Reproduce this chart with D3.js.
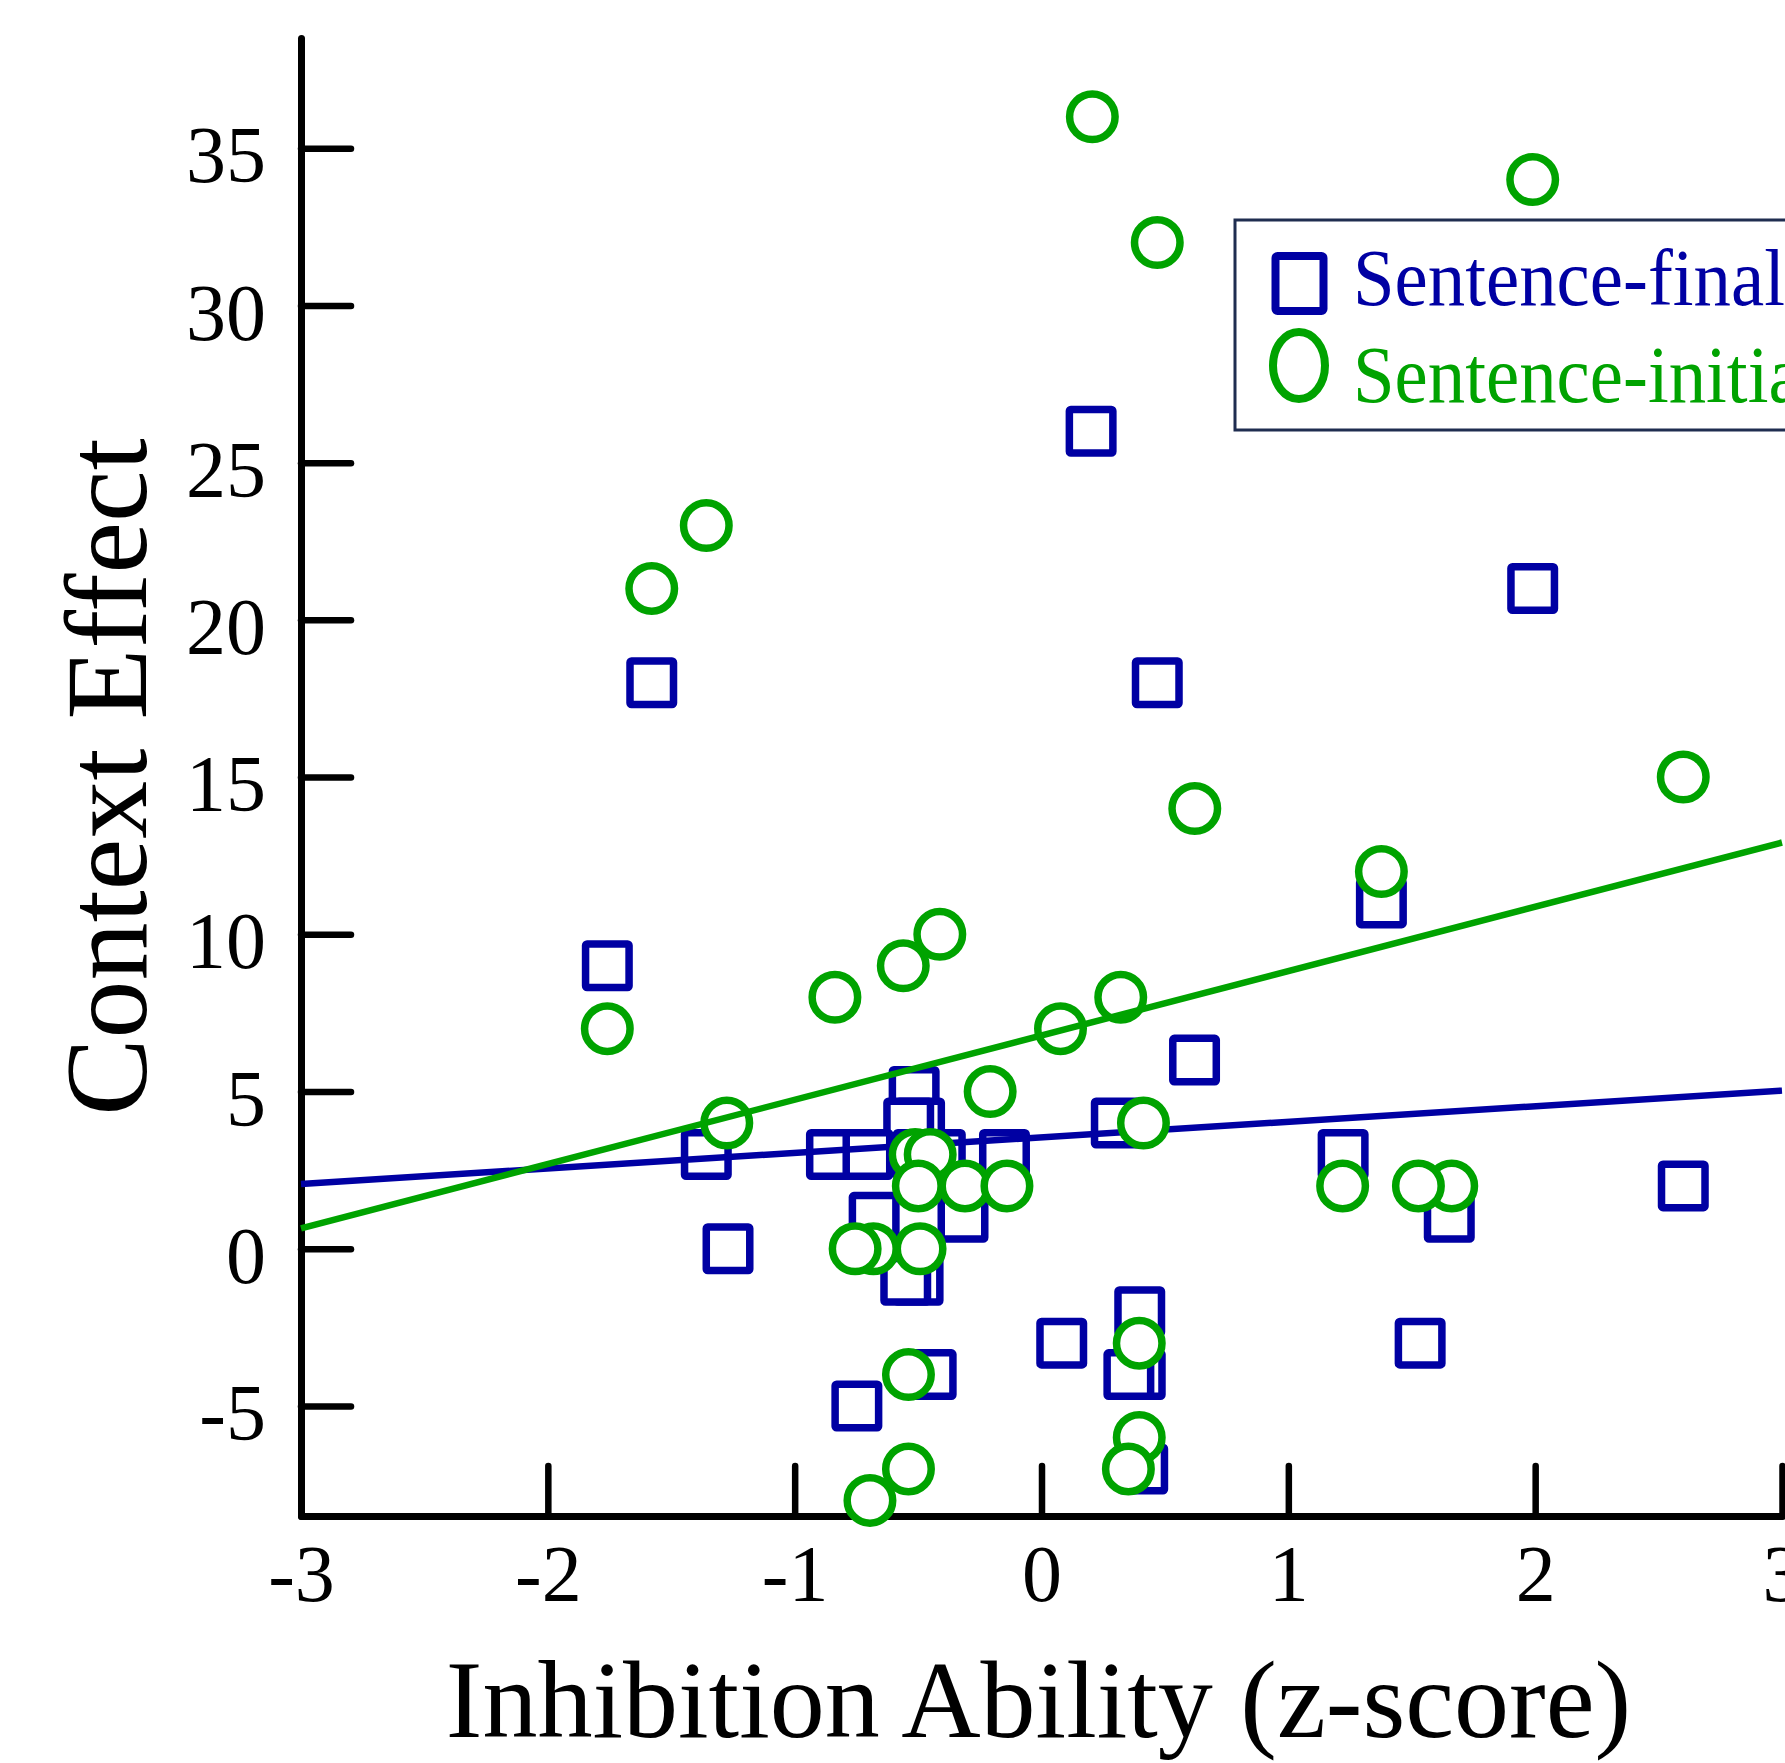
<!DOCTYPE html>
<html>
<head>
<meta charset="utf-8">
<script src="https://cdn.jsdelivr.net/npm/d3@7/dist/d3.min.js"></script>
<style>
  html, body { margin: 0; padding: 0; background: #fff; }
  svg { display: block; }
</style>
</head>
<body>
<script>
// ---- data ----
const xTicks = [-3, -2, -1, 0, 1, 2, 3];
const yTicks = [-5, 0, 5, 10, 15, 20, 25, 30, 35];

// Sentence-final (blue squares): [inhibition z, context effect]
const sentenceFinal = [
  [0.201, 26], [1.99, 21], [-1.579, 18], [0.469, 18], [1.377, 11], [-1.759, 9],
  [0.62, 6], [-0.516, 5], [-0.494, 4], [-0.538, 4], [0.303, 4],
  [-0.15, 3], [-0.41, 3], [-0.5, 3], [-0.851, 3], [-0.703, 3], [-1.358, 3], [1.222, 3],
  [2.60, 2], [-0.318, 1], [-0.678, 1], [1.652, 1], [-1.27, 0],
  [-0.50, -1], [-0.55, -1], [0.398, -2], [0.082, -3], [1.534, -3],
  [0.40, -4], [0.354, -4], [-0.447, -4], [-0.748, -5], [0.41, -7]
];

// Sentence-initial (green circles)
const sentenceInitial = [
  [0.206, 36], [1.99, 34], [0.469, 32], [-1.358, 23], [-1.579, 21], [2.60, 15],
  [0.621, 14], [1.377, 12], [-0.412, 10], [-0.56, 9], [-0.837, 8], [0.321, 8],
  [-1.759, 7], [0.077, 7], [-0.208, 5], [-1.275, 4], [0.413, 4],
  [-0.512, 3], [-0.451, 3], [-0.499, 2], [-0.31, 2], [-0.14, 2], [1.22, 2],
  [1.662, 2], [1.527, 2], [-0.681, 0], [-0.755, 0], [-0.492, 0],
  [0.396, -3], [-0.539, -4], [0.396, -6], [-0.539, -7], [0.352, -7], [-0.695, -8]
];

// Fit lines (x, y at both ends)
const finalFit = [[-3, 2.06], [3, 5.03]];
const initialFit = [[-3, 0.65], [3, 12.92]];

const seriesNames = ["Sentence-final", "Sentence-initial"];
const xLabel = "Inhibition Ability (z-score)";
const yLabel = "Context Effect";

// ---- styles ----
const W = 1785, H = 1763;
const BLUE = "#0000a3", GREEN = "#00a300";
const FONT = "'Liberation Serif', 'DejaVu Serif', serif";

const svg = d3.select("body").append("svg")
  .attr("width", W).attr("height", H)
  .style("background", "#fff");

const x = d3.scaleLinear().domain([-3, 3]).range([301, 1782]);
const y = d3.scaleLinear().domain([-8.5, 38.5]).range([1516.1, 38.1]);

// y axis
const yAxis = svg.append("g")
  .attr("transform", `translate(${x(-3)},0)`)
  .call(d3.axisLeft(y).tickValues(yTicks).tickSize(-50).tickSizeOuter(0)
    .tickPadding(35).tickFormat(d => String(d)));
yAxis.select(".domain").attr("stroke", "#000").attr("stroke-width", 7)
  .attr("stroke-linecap", "round").attr("stroke-linejoin", "round");
yAxis.selectAll(".tick line").attr("stroke", "#000").attr("stroke-width", 6.5)
  .attr("stroke-linecap", "round");
yAxis.selectAll(".tick text").attr("font-family", FONT).attr("font-size", 80)
  .attr("fill", "#000").attr("dy", "0.42em");

// x axis
const xAxis = svg.append("g")
  .attr("transform", `translate(0,${y(-8.5)})`)
  .call(d3.axisBottom(x).tickValues(xTicks).tickSize(-50).tickSizeOuter(0)
    .tickPadding(28).tickFormat(d => String(d)));
xAxis.select(".domain").attr("stroke", "#000").attr("stroke-width", 7)
  .attr("stroke-linecap", "round");
xAxis.selectAll(".tick line").attr("stroke", "#000").attr("stroke-width", 6.5)
  .attr("stroke-linecap", "round");
xAxis.selectAll(".tick text").attr("font-family", FONT).attr("font-size", 80)
  .attr("fill", "#000");
xAxis.selectAll(".tick").filter(d => d === -3).select("line").remove();

// axis titles
svg.append("text")
  .attr("x", (x(-3) + x(3)) / 2 - 3).attr("y", 1737)
  .attr("text-anchor", "middle").attr("font-family", FONT).attr("font-size", 110)
  .attr("fill", "#000").text(xLabel);
svg.append("text")
  .attr("transform", `translate(146,777) rotate(-90)`)
  .attr("text-anchor", "middle").attr("font-family", FONT).attr("font-size", 116)
  .attr("fill", "#000").text(yLabel);

const line = d3.line().x(d => x(d[0])).y(d => y(d[1]));
const SW = 7.5, SQ = 51 - SW, R = (53 - SW) / 2;

// series 1: squares then its line
svg.append("g").selectAll("rect").data(sentenceFinal).join("rect")
  .attr("x", d => x(d[0]) - SQ / 2).attr("y", d => y(d[1]) - SQ / 2)
  .attr("width", SQ).attr("height", SQ).attr("rx", 1.5)
  .attr("fill", "#fff").attr("stroke", BLUE).attr("stroke-width", SW);
svg.append("path").datum(finalFit).attr("d", line)
  .attr("fill", "none").attr("stroke", BLUE).attr("stroke-width", 6.5);

// series 2: circles then its line
svg.append("g").selectAll("circle").data(sentenceInitial).join("circle")
  .attr("cx", d => x(d[0])).attr("cy", d => y(d[1])).attr("r", R)
  .attr("fill", "#fff").attr("stroke", GREEN).attr("stroke-width", SW);
svg.append("path").datum(initialFit).attr("d", line)
  .attr("fill", "none").attr("stroke", GREEN).attr("stroke-width", 6.5);

// legend
const lg = svg.append("g");
lg.append("rect").attr("x", 1235).attr("y", 220).attr("width", 700).attr("height", 210)
  .attr("fill", "#fff").attr("stroke", "#1f2d50").attr("stroke-width", 3);
lg.append("rect").attr("x", 1299.5 - 24).attr("y", 283.5 - 27.5).attr("width", 48).attr("height", 55)
  .attr("rx", 2).attr("fill", "#fff").attr("stroke", BLUE).attr("stroke-width", 8);
lg.append("ellipse").attr("cx", 1299).attr("cy", 365.5).attr("rx", 26).attr("ry", 33.5)
  .attr("fill", "#fff").attr("stroke", GREEN).attr("stroke-width", 8);
const legendText = lg.selectAll("text.lt").data(seriesNames).join("text")
  .attr("class", "lt")
  .attr("x", 1353).attr("y", (d, i) => 305 + i * 97)
  .attr("font-family", FONT).attr("font-size", 80)
  .attr("fill", (d, i) => i === 0 ? BLUE : GREEN)
  .text(d => d);
legendText.each(function() {
  const L = this.getComputedTextLength();
  d3.select(this).attr("textLength", L * 0.935).attr("lengthAdjust", "spacingAndGlyphs");
});
</script>
</body>
</html>
